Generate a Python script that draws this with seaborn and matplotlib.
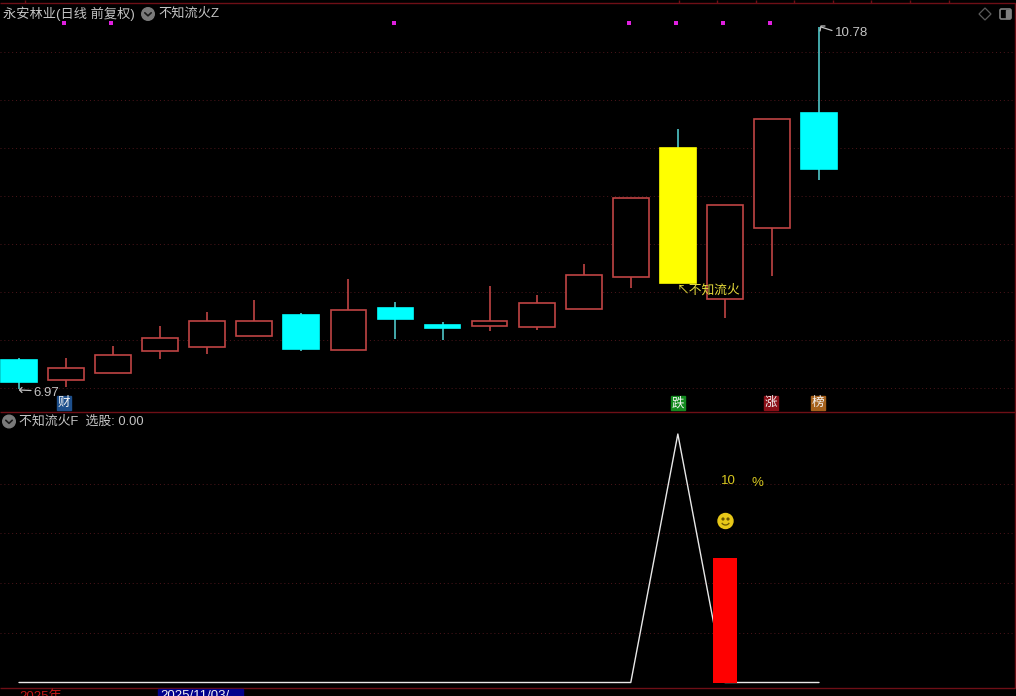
import matplotlib
matplotlib.use("Agg")
import matplotlib.pyplot as plt
from matplotlib.patches import Circle, Rectangle, Polygon, Arc, FancyBboxPatch
import pandas as pd
import seaborn as sns

sns.set_theme(style="dark")
plt.rcParams['font.family'] = ['Liberation Sans', 'Noto Sans CJK SC', 'DejaVu Sans']

# ---------- data ----------
top_price = [7.27, 7.19, 7.33, 7.51, 7.69, 7.69, 7.75, 7.80, 7.82, 7.64, 7.69, 7.87, 8.17, 8.98, 9.51, 8.91, 9.81, 9.87]
bottom_price = [7.04, 7.06, 7.14, 7.37, 7.41, 7.53, 7.39, 7.38, 7.71, 7.61, 7.63, 7.62, 7.81, 8.15, 8.09, 7.92, 8.66, 9.29]
high_price = [7.30, 7.30, 7.42, 7.63, 7.78, 7.91, 7.77, 8.13, 7.89, 7.67, 8.05, 7.96, 8.29, 8.98, 9.71, 8.91, 9.81, 10.78]
low_price = [6.97, 6.99, 7.14, 7.29, 7.34, 7.53, 7.37, 7.38, 7.50, 7.49, 7.58, 7.59, 7.81, 8.03, 8.09, 7.72, 8.16, 9.17]
candle_kind = ['cyan', 'red', 'red', 'red', 'red', 'red', 'cyan', 'red', 'cyan', 'cyan', 'red', 'red', 'red', 'red',
               'yellow', 'red', 'red', 'cyan']
marker_days = [1, 2, 8, 13, 14, 15, 16]
marker_level = [10.82, 10.82, 10.82, 10.82, 10.82, 10.82, 10.82]
indicator_line = [0, 0, 0, 0, 0, 0, 0, 0, 0, 0, 0, 0, 0, 0, 100, 0, 0, 0]
indicator_bar_day = [15]
indicator_bar_value = [50]
price_grid = [10.52, 10.015, 9.51, 9.005, 8.50, 7.995, 7.49, 6.985]
indicator_grid = [20, 40, 60, 80]

days = list(range(len(top_price)))
candles = pd.DataFrame({'day': days, 'top': top_price, 'bottom': bottom_price,
                        'high': high_price, 'low': low_price, 'kind': candle_kind})
indicator = pd.DataFrame({'day': days, 'value': indicator_line})
markers = pd.DataFrame({'day': marker_days, 'level': marker_level})

# ---------- layout ----------
W, H = 1016, 696
BG = '#000000'
FRAME = '#6e0f16'
GRID = '#4e161b'
TEXT = '#c4c4c4'
CANDLE_RED = '#c04444'
WICK = '#4fc6c8'
X0, STEP = 19.0, 47.06
PX_PER_PRICE = 95.01

fig = plt.figure(figsize=(W / 100, H / 100), dpi=100, facecolor=BG)


def make_axes(top, bottom):
    ax = fig.add_axes([0, 1 - bottom / H, 1, (bottom - top) / H], facecolor=BG)
    ax.set_xlim(-X0 / STEP, (W - X0) / STEP)
    for s in ax.spines.values():
        s.set_visible(False)
    ax.set_xticks([])
    ax.tick_params(left=False, labelleft=False)
    ax.set_xlabel('')
    return ax


ax1 = make_axes(6, 411)
ax1.set_ylim(10.78 - (411 - 27) / PX_PER_PRICE, 10.78 + (27 - 6) / PX_PER_PRICE)
ax1.set_yticks(price_grid)
ax1.grid(False)
ax1.hlines(price_grid, -X0 / STEP, (1012 - X0) / STEP, color=GRID, lw=0.7, ls=(0, (1, 3)), zorder=1)

fills = {'cyan': '#00ffff', 'yellow': '#ffff00', 'red': BG}
edges = {'cyan': '#00ffff', 'yellow': '#ffff00', 'red': CANDLE_RED}
wicks = {'cyan': WICK, 'yellow': WICK, 'red': CANDLE_RED}
for kind in ['cyan', 'yellow', 'red']:
    sub = candles[candles['kind'] == kind]
    ax1.vlines(sub['day'], sub['low'], sub['high'], color=wicks[kind], lw=1.2, zorder=2)
    ax1.bar(sub['day'], sub['top'] - sub['bottom'], bottom=sub['bottom'], width=0.76,
            facecolor=fills[kind], edgecolor=edges[kind], lw=1.2, zorder=3)
sns.scatterplot(data=markers, x=markers['day'] - 0.04, y='level', ax=ax1, marker='s', s=7,
                color='#e020e0', linewidth=0, zorder=4, legend=False)
ax1.set_xlabel('')
ax1.set_ylabel('')

ax2 = make_axes(411, 687.5)
ax2.set_ylim((682.5 - 687.5) / 2.485, (682.5 - 411) / 2.485)
ax2.hlines(indicator_grid, -X0 / STEP, (1012 - X0) / STEP, color=GRID, lw=0.7, ls=(0, (1, 3)), zorder=1)
sns.lineplot(data=indicator, x='day', y='value', ax=ax2, color='#e8e8e8', lw=1.0, estimator=None, zorder=2)
ax2.bar(indicator_bar_day, indicator_bar_value, width=0.52, facecolor='#ff0000', edgecolor='#ff0000', lw=0, zorder=3)
ax2.set_xlabel('')
ax2.set_ylabel('')

# ---------- overlay: frame, labels, icons (pixel coordinates) ----------
ov = fig.add_axes([0, 0, 1, 1], facecolor='none')
ov.set_xlim(0, W)
ov.set_ylim(H, 0)
ov.axis('off')

ov.hlines([2.7, 411.5, 687.5], 0, W, color=FRAME, lw=1.0)
ov.vlines(1015, 2.7, 687.5, color=FRAME, lw=1.0)
ov.vlines([25, 679, 717, 756, 794, 833, 871, 910, 949], 0, 2.7, color=FRAME, lw=1)


def label(x, y, s, color=TEXT, size=9.5, **kw):
    ov.text(x, y, s, color=color, fontsize=size, va='center', ha=kw.pop('ha', 'left'), **kw)


def chevron(cx, cy):
    ov.add_patch(Circle((cx, cy), 6.3, color='#7a7a7a', zorder=5))
    ov.plot([cx - 3.2, cx, cx + 3.2], [cy - 1.2, cy + 1.8, cy - 1.2], color='#1a1a1a', lw=1.2, zorder=6)


label(3, 13.5, '永安林业(日线 前复权)')
chevron(148, 14)
label(158, 13.5, '不知流火Z')
chevron(9, 421.5)
label(19, 421.5, '不知流火F  选股: 0.00', size=9.3)

ov.add_patch(Polygon([(985, 8), (991, 14), (985, 20), (979, 14)], closed=True, fill=False, ec='#5c5c5c', lw=0.9))
ov.add_patch(FancyBboxPatch((1000, 9), 11, 10, boxstyle='round,pad=0,rounding_size=1.5', fill=False, ec='#808080', lw=1.2))
ov.add_patch(Rectangle((1006, 10), 4, 8, color='#808080'))

# extreme price annotations
ov.plot([20, 31], [390, 390.5], color=TEXT, lw=0.9)
ov.plot([22, 19.5, 22], [387.5, 390, 392.5], color=TEXT, lw=0.9)
label(33, 393.5, '6.97')
ov.plot([821, 832], [27, 30.5], color=TEXT, lw=0.9)
ov.plot([820, 821, 825], [31, 26, 26], color=TEXT, lw=0.9)
label(835, 33, '10.78')
label(677, 291, '↖不知流火', color='#e8dc3c', size=9.2)

# event badges


def badge(cx, s, color):
    ov.add_patch(Rectangle((cx - 7, 396), 14, 14, color=color, zorder=5))
    ov.text(cx, 403, s, color='#f4f4f4', fontsize=9, ha='center', va='center', zorder=6)


badge(64, '财', '#1d4f8c')
badge(678, '跌', '#138a1f')
badge(771, '涨', '#8a1018')
badge(818, '榜', '#a5611c')

label(721, 481, '10', color='#d8c820')
label(751, 483.5, '%', color='#d8c820')

# smiley
ov.add_patch(Circle((725.5, 521), 7.5, color='#e8c818', zorder=5))
ov.add_patch(Circle((723, 519), 0.9, color='#6a5500', zorder=6))
ov.add_patch(Circle((728, 519), 0.9, color='#6a5500', zorder=6))
ov.add_patch(Arc((725.5, 521.5), 8, 7, theta1=20, theta2=160, color='#6a5500', lw=0.9, zorder=6))

# date strip, cut off by the window edge in the reference too
ov.text(19, 690, '2025年', color='#c01818', fontsize=9.5, va='top', ha='left')
ov.add_patch(Rectangle((158, 688.5), 85, 10, color='#00008c', zorder=5))
ov.text(160, 690, '2025/11/03/', color='#f0f0f0', fontsize=9.5, va='top', ha='left', zorder=6)

fig.savefig('out.png', dpi=100, facecolor=BG)
